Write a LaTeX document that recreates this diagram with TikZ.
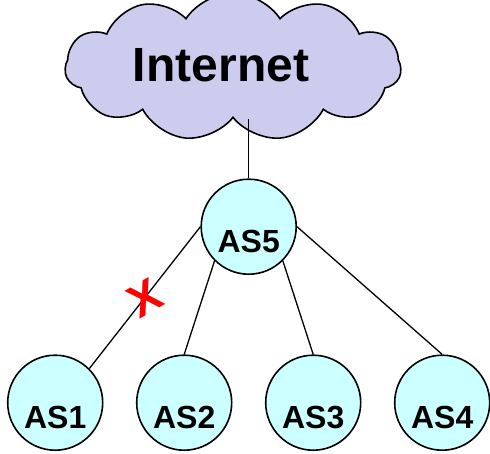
\documentclass[tikz,border=0pt]{standalone}
\usepackage{fontspec}
\setmainfont{Liberation Sans}
\usetikzlibrary{shapes.symbols}
\definecolor{cloudfill}{RGB}{204,204,238}
\definecolor{asfill}{RGB}{204,255,255}

\begin{document}
\begin{tikzpicture}[x=1pt,y=1pt,grow=down,%
level 1/.style={sibling distance=129pt,level distance=176pt},
asnode/.style={circle,draw=black,fill=asfill,line width=1.6pt,minimum size=95pt,
  inner sep=0pt,text height=52pt,text depth=0pt,font=\fontsize{32}{32}\bfseries},
edge from parent/.style={draw,line width=1.3pt},
fromwest/.style={edge from parent path={(\tikzparentnode.west) -- (\tikzchildnode.45)}},
fromsw/.style={edge from parent path={(\tikzparentnode.south west) -- (\tikzchildnode.north)}},
fromse/.style={edge from parent path={(\tikzparentnode.south east) -- (\tikzchildnode.north)}},
fromeast/.style={edge from parent path={(\tikzparentnode.east) -- (\tikzchildnode.north)}},
cross/.style={draw=none,fill=none,text=red,rotate=30,inner sep=0pt,font=\fontsize{46}{46}\bfseries},
netcloud/.style={cloud,cloud puffs=11,cloud puff arc=115,aspect=2.6,draw=black,fill=cloudfill,
  line width=1.6pt,minimum width=336pt,minimum height=124pt,inner sep=0pt,
  font=\fontsize{48}{48}\bfseries} ]
\useasboundingbox (0,0) rectangle (490,-453);
\node[netcloud] (internet) at (233,-67) {\raisebox{5pt}{Internet}\hspace*{24pt}};
\draw[line width=1.3pt] (248.7,-178) coordinate (top5) -- (top5 |- internet.south);
\node[asnode] (as5) at (248.7,-226.7) {AS5}
 child[fromwest] {node[asnode] (as1) {AS1}
 		edge from parent node[cross,pos=0.5] (cut) {X}}
 child[fromsw] {node[asnode] (as2) {AS2}}
 child[fromse] {node[asnode] (as3) {AS3}}
 child[fromeast] {node[asnode] (as4) {AS4}};
\end{tikzpicture}
\end{document}
